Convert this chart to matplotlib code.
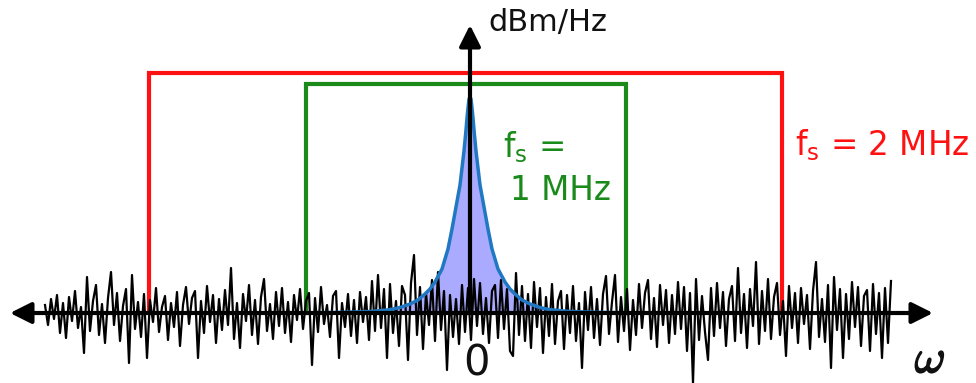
import matplotlib
matplotlib.use("Agg")
import matplotlib.pyplot as plt
import matplotlib.patheffects as pe
import numpy as np

# ---------------- data (units: pixel-like offsets from the origin) ----------------
# noise trace: sample start / spacing along the frequency axis and amplitudes
noise_x0 = -425
noise_dx = 3
noise = [
    8, -12, 14, -6, 18, -20, 10, -25, 16, -8, 22, -15, 6, -40, 36, -18, 12, 28, -22, 9,
    -30, 15, 41, -12, 20, -28, 7, 24, -50, 38, -16, 11, -24, 19, -45, 13, -9, 25, -19, 6,
    17, -27, 10, -14, 21, -33, 8, 26, -11, 15, 22, -45, 12, -20, 27, -9, 18, -30, 14, -17,
    23, -12, 45, -26, 10, -35, 19, -8, 28, -22, 13, -31, 16, 34, -18, 9, -26, 21, -13, 25,
    -20, 11, -29, 18, -7, 24, -16, 12, 20, -52, 15, -19, 26, -11, 8, -24, 17, 22, -45, 10,
    -14, 19, -23, 13, -30, 21, -9, 16, -27, 32, -18, 38, -15, 24, -45, 29, -20, 12, -33, 27,
    18, -47, 30, 58, -22, 26, -36, 20, -12, 33, -28, 41, -17, 22, -57, 18, -24, 14, -31, 28,
    -19, 25, -27, 34, -13, 30, -21, 15, -30, 22, 28, -25, 33, -16, 24, -38, -43, 40, -22, 27,
    -28, 19, -35, 31, -14, 25, -40, 16, -23, 29, -31, 12, 22, -36, 18, -20, 27, -28, 10, -55,
    21, -17, 26, -25, 14, -32, 19, 37, -21, 11, 38, -29, 16, -18, 24, -37, 13, -22, 29, -15,
    20, 33, -26, 15, -34, 28, -12, 23, -30, 18, -21, 31, -16, 26, -38, 20, -70, 34, -27, 17,
    -19, -47, 25, -23, 30, -15, 21, -33, 14, 27, -28, 45, -20, 19, -35, 24, -13, 51, -31, 22,
    -18, 34, -26, 16, 30, -22, 12, -43, 27, -15, 20, -30, 25, -11, 18, -36, 22, 51, -24, 14,
    -29, 28, -55, 36, -17, 24, -45, 19, -26, 31, -14, 26, -33, 17, 23, -38, 29, -21, 20, -45,
    25, -30, 32,
]

# signal peak: offsets from centre and heights (one side, mirrored)
peak_offsets = [0, 1, 2, 3, 4, 6, 8, 10, 14, 18, 22, 28, 35, 40, 45, 52, 60, 70, 80, 100, 130, 160]
peak_heights = [216, 214, 205, 195, 183, 162, 145, 128, 106, 84, 64, 44, 31, 24, 19, 13, 9, 5.5, 3.3, 1.5, 0.6, 0.2]

# sampling bandwidth boxes: (left edge, right edge, top level)
red_box = (-321, 312, 240)
green_box = (-164, 156, 229)

# axis extents
x_axis_left, x_axis_right = -460, 463
y_axis_top = 288

# ---------------- figure ----------------
fig = plt.figure(figsize=(9.76, 3.83), dpi=100)
ax = fig.add_axes([0, 0, 1, 1])
ax.set_xlim(-470, 506)
ax.set_ylim(-70, 313)
ax.axis("off")

red = "#ff1111"
green = "#1a8a1a"

# boxes
for (l, r, t), c in [(red_box, red), (green_box, green)]:
    ax.plot([l, l, r, r], [0, t, t, 0], color=c, lw=3, zorder=2, solid_joinstyle="miter")

# peak
po = np.array(peak_offsets, dtype=float)
ph = np.array(peak_heights, dtype=float)
px = np.concatenate([-po[::-1], po[1:]])
py = np.concatenate([ph[::-1], ph[1:]])
ax.fill_between(px, 0, py, color="#aaaaff", zorder=3, lw=0)

# noise
nx = noise_x0 + noise_dx * np.arange(len(noise))
ax.plot(nx, noise, color="black", lw=1.6, zorder=4)

ax.plot(px, py, color="#1f78c1", lw=2.5, zorder=5)

# axes arrows
ax.annotate("", xy=(x_axis_left, 0), xytext=(x_axis_right, 0),
            arrowprops=dict(arrowstyle="<|-|>", color="black", lw=3,
                            mutation_scale=32, shrinkA=0, shrinkB=0), zorder=6)
ax.annotate("", xy=(0, y_axis_top), xytext=(0, 0),
            arrowprops=dict(arrowstyle="-|>", color="black", lw=3,
                            mutation_scale=32, shrinkA=0, shrinkB=0), zorder=6)

plt.rcParams["mathtext.fontset"] = "dejavusans"

ax.text(18, 291, "dBm/Hz", fontsize=22, color="#111111", ha="left", va="center")
ax.text(325, 158, r"f$_\mathregular{s}$ = 2 MHz", fontsize=23.5, color=red, ha="left", va="baseline")
ax.text(33, 156, r"f$_\mathregular{s}$ =", fontsize=23.5, color=green, ha="left", va="baseline")
ax.text(40, 113, "1 MHz", fontsize=23.5, color=green, ha="left", va="baseline")
ax.text(6, -50, "0", fontsize=30, color="#111111", ha="center", va="center")
ax.text(460, -47, r"$\omega$", fontsize=34, color="#111111", ha="center", va="center",
        math_fontfamily="cm",
        path_effects=[pe.withStroke(linewidth=1.2, foreground="#111111")])

fig.savefig("out.png", dpi=100)
